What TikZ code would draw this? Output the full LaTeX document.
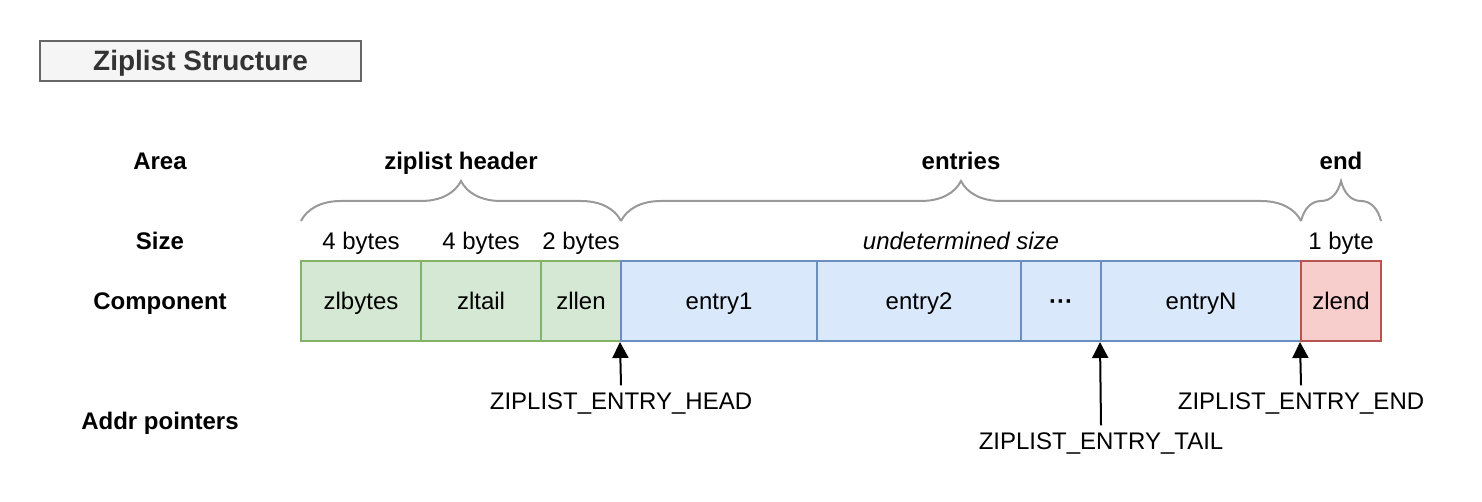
\documentclass[tikz,border=0pt]{standalone}
\usepackage{fontspec}
\setmainfont{Liberation Sans}
\usepackage{tikz}
\usetikzlibrary{arrows.meta,decorations.pathreplacing}
\definecolor{greenfill}{HTML}{D5E8D4}
\definecolor{greenline}{HTML}{82B366}
\definecolor{bluefill}{HTML}{DAE8FC}
\definecolor{blueline}{HTML}{6C8EBF}
\definecolor{redfill}{HTML}{F8CECC}
\definecolor{redline}{HTML}{B85450}
\definecolor{titlefill}{HTML}{F5F5F5}
\definecolor{titleline}{HTML}{666666}
\definecolor{titletext}{HTML}{333333}
\definecolor{bracegray}{HTML}{999999}
\tikzset{
  every node/.append style={font=\fontsize{12pt}{14pt}\selectfont,
    text height=8.6pt,text depth=0pt},
  rowlabel/.style={font=\fontsize{12pt}{14pt}\selectfont\bfseries},
  cell/.style={draw,line width=1pt,minimum height=40pt,inner sep=0pt},
  cellg/.style={cell,fill=greenfill,draw=greenline},
  cellb/.style={cell,fill=bluefill,draw=blueline},
  cellr/.style={cell,fill=redfill,draw=redline},
  areabrace/.style={bracegray,line width=1pt,
    decorate,decoration={brace,amplitude=20pt}},
  ptr/.style={-{Triangle[length=8pt,width=8pt]},line width=1pt,black}
}

\begin{document}
\begin{tikzpicture}[x=0.5pt,y=-0.5pt]
  \useasboundingbox (0,0) rectangle (1482,502);
  % title
  \node[draw=titleline,fill=titlefill,line width=1pt,text=titletext,
    minimum width=160.5pt,minimum height=20pt,text height=10pt,
    font=\fontsize{14pt}{16pt}\selectfont\bfseries] (title) at (200.5,61)
    {Ziplist Structure};
  % row labels
  \node[rowlabel] (lblarea) at (160,161) {Area};
  \node[rowlabel] (lblsize) at (160,241) {Size};
  \node[rowlabel] (lblcomp) at (160,301) {Component};
  \node[rowlabel] (lbladdr) at (160,421) {Addr pointers};
  % components
  \node[cellg,minimum width=60pt] (zlbytes) at (361,301) {zlbytes};
  \node[cellg,minimum width=60pt] (zltail) at (481,301) {zltail};
  \node[cellg,minimum width=40pt] (zllen) at (581,301) {zllen};
  \node[cellb,minimum width=98pt] (entry1) at (719,301) {entry1};
  \node[cellb,minimum width=102pt] (entry2) at (919,301) {entry2};
  \node[cellb,minimum width=40pt] (dots) at (1061,301) {\bfseries ···};
  \node[cellb,minimum width=100pt] (entryN) at (1201,301) {entryN};
  \node[cellr,minimum width=40pt] (zlend) at (1341,301) {zlend};
  % sizes
  \node (szbytes) at (361,241) {4 bytes};
  \node (sztail) at (481,241) {4 bytes};
  \node (szlen) at (581,241) {2 bytes};
  \node (szentries) at (961,241) {\itshape undetermined size};
  \node (szend) at (1341,241) {1 byte};
  % areas
  \draw[areabrace] (301,221) -- (621,221);
  \draw[areabrace] (621,221) -- (1301,221);
  \draw[areabrace] (1301,221) -- (1381,221);
  \node[rowlabel] (areahdr) at (461,161) {ziplist header};
  \node[rowlabel] (areaent) at (961,161) {entries};
  \node[rowlabel] (areaend) at (1341,161) {end};
  % pointers
  \node (ptrhead) at (621,401) {ZIPLIST\_ENTRY\_HEAD};
  \node (ptrtail) at (1101,441) {ZIPLIST\_ENTRY\_TAIL};
  \node (ptrend) at (1301,401) {ZIPLIST\_ENTRY\_END};
  \draw[ptr] (ptrhead.north) -- (entry1.south west);
  \draw[ptr] (ptrtail.north) -- (entryN.south west);
  \draw[ptr] (ptrend.north) -- (zlend.south west);
\end{tikzpicture}
\end{document}
